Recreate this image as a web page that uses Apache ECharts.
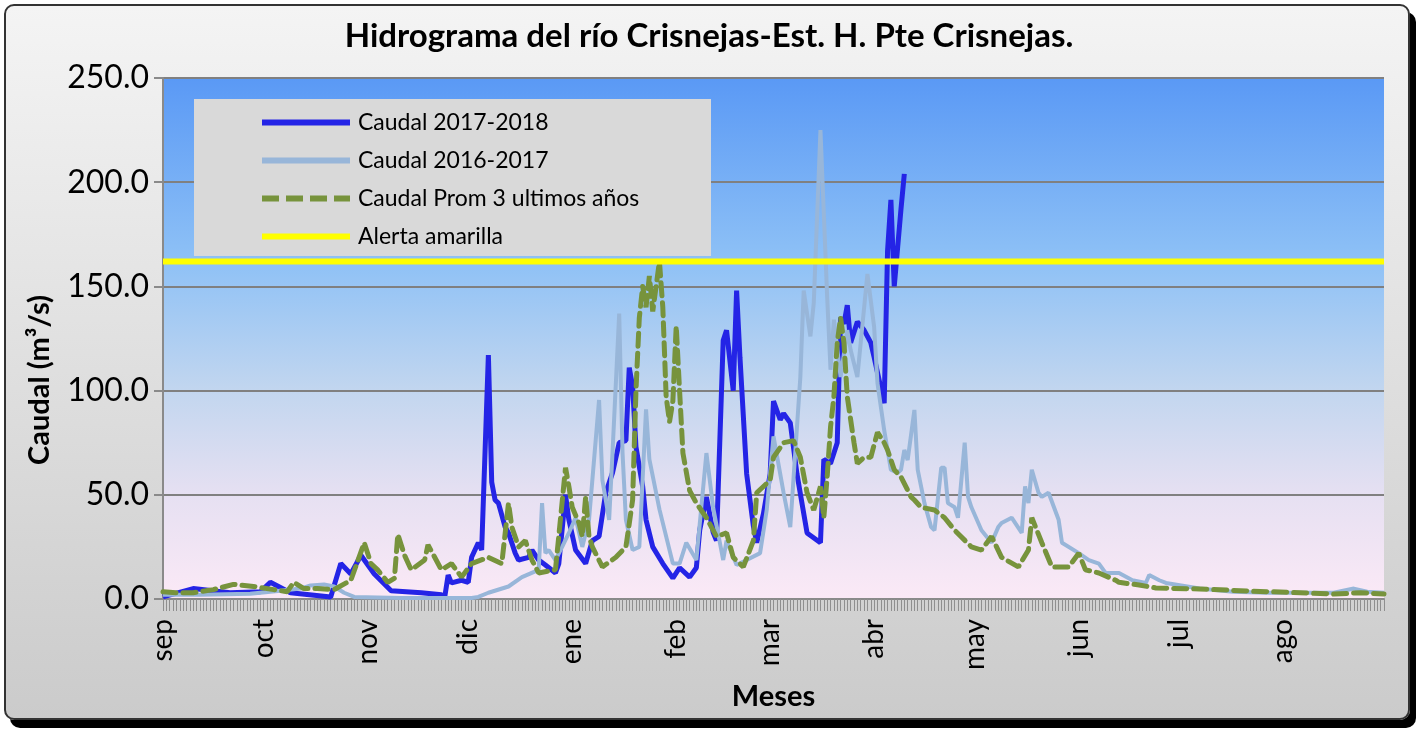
<!DOCTYPE html>
<html>
<head>
<meta charset="utf-8">
<script src="https://cdn.jsdelivr.net/npm/echarts@6/dist/echarts.min.js"></script>
<style>
  html, body { margin: 0; padding: 0; background: #fff; }
  #frame { position: absolute; left: 4px; top: 4px; width: 1406px; height: 716px; box-sizing: border-box;
    border: 2px solid #333; border-radius: 10px; background: linear-gradient(#f4f4f4, #cbcbcb);
    box-shadow: 6px 8px 0 #000; }
  #chart { position: absolute; left: 0; top: 0; width: 1418px; height: 731px; }
</style>
</head>
<body>
<div id="frame"></div>
<div id="chart"></div>
<script>
// meses del año hidrologico (sep - ago)
const meses = ['sep', 'oct', 'nov', 'dic', 'ene', 'feb', 'mar', 'abr', 'may', 'jun', 'jul', 'ago']
const diasMes = [30, 31, 30, 31, 31, 28, 31, 30, 31, 30, 31, 31]
const yTicks = [0, 50, 100, 150, 200, 250]
const alerta = 162

// Caudal 2017-2018 (dia del año hidrologico, m3/s)
const dias1718 = [0, 9, 20, 29, 32, 38, 50, 53, 56, 59, 63, 68, 77, 83, 84, 85, 86, 89, 91, 92, 94, 95, 97, 98, 99, 100,
  102, 103, 105, 106, 109, 110, 112, 114, 117, 118, 120, 121, 123, 126, 128, 130, 132, 134, 136, 138, 139, 140, 141,
  143, 144, 146, 149, 152, 154, 157, 159, 160, 162, 164, 165, 167, 168, 170, 171, 172, 174, 176, 177, 179, 181, 182,
  184, 185, 187, 189, 192, 196, 197, 199, 201, 202, 203, 204, 205, 207, 209, 211, 212, 215, 216, 217, 218, 220, 221]
const caudal1718 = [1, 5, 3, 3.5, 8, 3, 1, 17, 12, 21, 12, 4, 3, 2, 1, 11.5, 7.7, 9, 8, 20, 27, 23.5, 117, 56, 47.5, 46,
  34.5, 31.7, 22, 18.7, 20, 23.5, 18.7, 16.3, 12.5, 17, 50, 38, 23.5, 17, 28, 30, 51, 60.5, 75, 76, 111, 102, 73,
  54, 38, 25, 17, 10, 15, 10.5, 15, 33, 49, 32, 28, 124, 129, 100, 148, 116, 60, 35, 27, 41, 60, 95,
  86, 89, 84.5, 60, 31.7, 27, 67, 65, 75, 135, 132, 141, 123, 133, 129, 123, 116, 94, 167, 191.5, 150, 187, 204]

// Caudal 2016-2017
const dias1617 = [0, 11, 26, 35, 41, 44, 48, 51, 54, 57, 71, 92, 94, 97, 103, 107, 112, 113, 114, 115, 117, 119, 121,
  123, 125, 127, 130, 131, 133, 134, 136, 137, 138, 140, 142, 144, 145, 148, 152, 154, 156, 159, 162, 164, 167, 168,
  171, 174, 178, 180, 182, 185, 187, 188, 190, 191, 193, 194, 196, 198, 199, 200, 202, 204, 205, 207, 208, 210, 212,
  213, 215, 217, 219, 220, 221, 222, 224, 225, 227, 229, 230, 232, 233, 234, 236, 237, 239, 240, 241, 244, 247, 249,
  250, 253, 256, 257, 258, 259, 261, 262, 264, 267, 268, 273, 276, 279, 281, 285, 289, 293, 294, 297, 299, 309, 319,
  329, 339, 349, 355, 359, 364]
const caudal1617 = [2, 2, 2.5, 4, 5, 6.5, 7, 6, 3, 1, 0.5, 0.5, 1, 3, 6, 10.5, 14, 46, 22, 23.5, 18.7, 25, 31.7,
  39, 25, 38, 95.5, 57, 38, 70, 137, 70, 38, 23.5, 25, 91, 67, 43, 17, 17, 27, 18.7, 70, 44, 18.7, 28,
  16.3, 18.7, 22, 43, 78, 51, 34.5, 58.6, 106.5, 148, 126, 142, 225, 145, 110, 134, 106.5, 129, 119.5, 106.5, 123, 156, 130.5,
  103.6, 81, 62, 60.5, 62, 71.5, 66.7, 90.7, 62, 46, 34.5, 33, 63, 63, 46, 44, 39, 75, 49, 44, 33, 27, 34.5,
  36.5, 39, 31.7, 54, 46, 62, 51, 49, 51, 38, 27, 22, 18.7, 17, 12.5, 12.5, 9, 7.7, 11.5, 9, 7.7, 5, 3.5,
  3, 3, 3, 5, 3.5, 3]

// Caudal promedio de los 3 ultimos años
const diasProm = [0, 4, 9, 15, 21, 27, 33, 37, 39, 42, 46, 51, 56, 60, 62, 64, 67, 69, 70, 72, 74, 78, 79, 83, 86, 89,
  92, 97, 101, 103, 104, 106, 108, 110, 112, 117, 120, 121, 122, 124, 125, 126, 127, 128, 131, 135, 138, 140, 141,
  142, 143, 144, 145, 146, 147, 148, 149, 150, 151, 152, 153, 154, 155, 157, 159, 162, 165, 168, 170, 173, 176, 177,
  179, 181, 182, 185, 188, 190, 192, 194, 196, 197, 198, 199, 200, 201, 202, 203, 204, 206, 207, 209, 211, 213, 215,
  216, 218, 220, 223, 224, 226, 230, 233, 236, 241, 244, 247, 250, 255, 258, 259, 262, 265, 270, 273, 275, 279, 284,
  285, 291, 296, 309, 324, 339, 349, 357, 364]
const caudalProm = [3.5, 3, 3, 4.5, 7, 6, 4.5, 3.5, 8, 5, 5, 4.5, 9, 27, 17, 14, 8, 10, 31, 21, 14, 18.7, 26, 14, 17, 10.5,
  17, 20, 17, 46, 34.5, 25, 28, 18.7, 12.5, 14, 63, 54, 44, 36.5, 30, 49, 30, 25, 15.4, 20, 25, 47.5, 100,
  135, 150, 140, 155, 138, 150, 162, 140, 97, 85, 95, 131, 100, 70, 52, 46, 39, 30, 31.7, 20, 15.4, 28, 51,
  54, 57, 68, 75, 76, 68, 51, 42.7, 54, 39, 58.6, 82.5, 97, 123, 135, 123, 97, 75, 65, 68, 68, 80, 75,
  71.5, 62, 58.6, 49, 47.5, 44, 42.7, 39, 33, 25, 23.5, 30, 20, 15.4, 23.5, 39, 27, 15.4, 15.4, 22, 14, 12.5, 9,
  8, 6.7, 5.3, 4.8, 3.8, 3, 2.4, 3, 2.4]

const dias = []
meses.forEach(function (m, i) {
  for (let d = 1; d <= diasMes[i]; d++) dias.push(d + ' ' + m)
})
const pares = function (xs, ys) { return xs.map(function (x, i) { return [x, ys[i]] }) }

// iconos de la leyenda: linea solida y linea discontinua
const iconoLinea = 'path://M0,0h88v6h-88z'
const iconoGuiones = 'path://M0,0h17v6h-17z M24,0h17v6h-17z M48,0h17v6h-17z M72,0h16v6h-16z'

const chart = echarts.init(document.getElementById('chart'))
const fuente = 'Lato'
chart.setOption({
  textStyle: { fontFamily: fuente, color: '#000' },
  title: {
    text: 'Hidrograma del río Crisnejas-Est. H. Pte Crisnejas.',
    left: 'center',
    top: 15,
    textStyle: { fontFamily: fuente, fontSize: 33, fontWeight: 'bold', color: '#000' }
  },
  grid: {
    left: 163, top: 78, width: 1221, height: 521,
    show: true,
    borderWidth: 0,
    backgroundColor: new echarts.graphic.LinearGradient(0, 0, 0, 1, [
      { offset: 0, color: '#5a99f5' },
      { offset: 0.35, color: '#8ec1f6' },
      { offset: 0.6, color: '#c2d6ef' },
      { offset: 0.8, color: '#e6e0f2' },
      { offset: 1, color: '#fbe9f6' }
    ])
  },
  graphic: [
    {
      type: 'rect', z: 3,
      shape: { x: 194, y: 99, width: 517, height: 157 },
      style: { fill: '#d9d9d9' }
    },
    {
      type: 'text', z: 5,
      x: 40, y: 380, rotation: Math.PI / 2,
      style: {
        text: 'Caudal (m³/s)', align: 'center', verticalAlign: 'middle',
        font: 'bold 29px Lato', fill: '#000'
      }
    }
  ],
  legend: {
    orient: 'vertical',
    left: 257, top: 106,
    itemWidth: 88, itemHeight: 6, itemGap: 15,
    z: 4,
    textStyle: { fontFamily: fuente, fontSize: 23, color: '#000', padding: [0, 0, 0, 3] },
    data: [
      { name: 'Caudal 2017-2018', icon: iconoLinea },
      { name: 'Caudal 2016-2017', icon: iconoLinea },
      { name: 'Caudal Prom 3 ultimos años', icon: iconoGuiones },
      { name: 'Alerta amarilla', icon: iconoLinea }
    ]
  },
  xAxis: {
    type: 'category',
    data: dias,
    boundaryGap: false,
    name: 'Meses',
    nameLocation: 'middle',
    nameGap: 83,
    nameMoveOverlap: false,
    nameTextStyle: { fontFamily: fuente, fontSize: 29, fontWeight: 'bold', color: '#000' },
    axisLine: { lineStyle: { color: '#8a8a8a', width: 2 } },
    axisTick: { interval: 0, length: 12, lineStyle: { color: '#8f8f8f', width: 1 } },
    axisLabel: {
      interval: function (idx, val) { return val.indexOf('1 ') === 0 },
      formatter: function (val) { return val.split(' ')[1] },
      rotate: 90,
      margin: 20,
      fontFamily: fuente, fontSize: 28, color: '#000'
    }
  },
  yAxis: {
    type: 'value',
    min: yTicks[0], max: yTicks[yTicks.length - 1], interval: 50,
    axisLine: { show: true, lineStyle: { color: '#8a8a8a', width: 2 } },
    axisTick: { show: true, length: 9, lineStyle: { color: '#8a8a8a', width: 2 } },
    axisLabel: {
      margin: 14,
      fontFamily: fuente, fontSize: 32, color: '#000',
      formatter: function (v) { return v.toFixed(1) }
    },
    splitLine: { lineStyle: { color: '#808080', width: 2 } }
  },
  series: [
    {
      name: 'Caudal 2017-2018', type: 'line', symbol: 'none',
      data: pares(dias1718, caudal1718),
      lineStyle: { color: '#2424e6', width: 5 }, itemStyle: { color: '#2424e6' }
    },
    {
      name: 'Caudal 2016-2017', type: 'line', symbol: 'none',
      data: pares(dias1617, caudal1617),
      lineStyle: { color: '#98b6d9', width: 4 }, itemStyle: { color: '#98b6d9' }
    },
    {
      name: 'Caudal Prom 3 ultimos años', type: 'line', symbol: 'none',
      data: pares(diasProm, caudalProm),
      lineStyle: { color: '#77933c', width: 5, type: [13, 7], cap: 'round' }, itemStyle: { color: '#77933c' }
    },
    {
      name: 'Alerta amarilla', type: 'line', symbol: 'none',
      data: [[0, alerta], [dias.length - 1, alerta]],
      lineStyle: { color: '#ffff00', width: 6 }, itemStyle: { color: '#ffff00' }
    }
  ]
})
</script>
</body>
</html>
